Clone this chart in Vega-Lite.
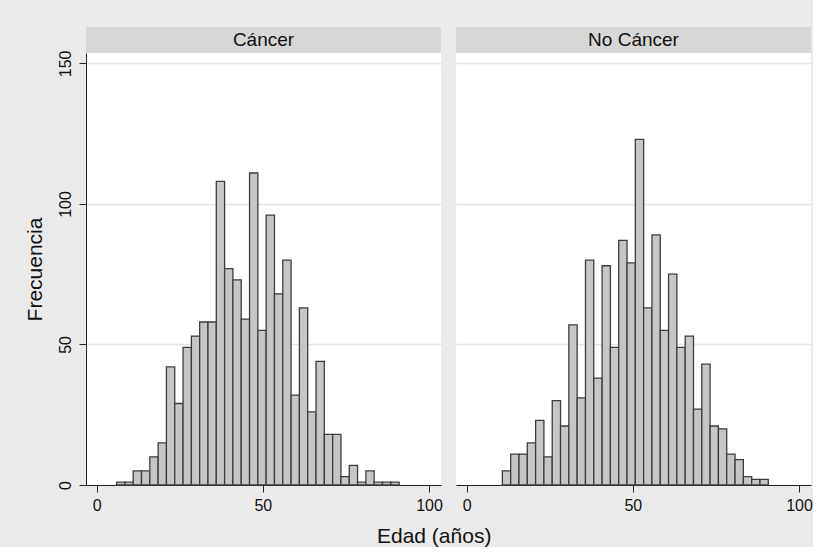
{
  "$schema": "https://vega.github.io/schema/vega-lite/v6.json",
  "background": "#eaeaea",
  "padding": {"left": 24, "top": 27, "right": 0, "bottom": 0},
  "autosize": {"type": "pad"},
  "spacing": 13,
  "datasets": {
    "left": [
      {"start": 6, "end": 8.5, "count": 1},
      {"start": 8.5, "end": 11, "count": 1},
      {"start": 11, "end": 13.5, "count": 5},
      {"start": 13.5, "end": 16, "count": 5},
      {"start": 16, "end": 18.5, "count": 10},
      {"start": 18.5, "end": 21, "count": 15},
      {"start": 21, "end": 23.5, "count": 42},
      {"start": 23.5, "end": 26, "count": 29},
      {"start": 26, "end": 28.5, "count": 49},
      {"start": 28.5, "end": 31, "count": 53},
      {"start": 31, "end": 33.5, "count": 58},
      {"start": 33.5, "end": 36, "count": 58},
      {"start": 36, "end": 38.5, "count": 108},
      {"start": 38.5, "end": 41, "count": 77},
      {"start": 41, "end": 43.5, "count": 73},
      {"start": 43.5, "end": 46, "count": 59},
      {"start": 46, "end": 48.5, "count": 111},
      {"start": 48.5, "end": 51, "count": 55},
      {"start": 51, "end": 53.5, "count": 96},
      {"start": 53.5, "end": 56, "count": 68},
      {"start": 56, "end": 58.5, "count": 80},
      {"start": 58.5, "end": 61, "count": 32},
      {"start": 61, "end": 63.5, "count": 63},
      {"start": 63.5, "end": 66, "count": 26},
      {"start": 66, "end": 68.5, "count": 44},
      {"start": 68.5, "end": 71, "count": 18},
      {"start": 71, "end": 73.5, "count": 18},
      {"start": 73.5, "end": 76, "count": 3},
      {"start": 76, "end": 78.5, "count": 7},
      {"start": 78.5, "end": 81, "count": 1},
      {"start": 81, "end": 83.5, "count": 5},
      {"start": 83.5, "end": 86, "count": 1},
      {"start": 86, "end": 88.5, "count": 1},
      {"start": 88.5, "end": 91, "count": 1}
    ],
    "right": [
      {"start": 10.75, "end": 13.25, "count": 5},
      {"start": 13.25, "end": 15.75, "count": 11},
      {"start": 15.75, "end": 18.25, "count": 11},
      {"start": 18.25, "end": 20.75, "count": 15},
      {"start": 20.75, "end": 23.25, "count": 23},
      {"start": 23.25, "end": 25.75, "count": 10},
      {"start": 25.75, "end": 28.25, "count": 30},
      {"start": 28.25, "end": 30.75, "count": 21},
      {"start": 30.75, "end": 33.25, "count": 57},
      {"start": 33.25, "end": 35.75, "count": 31},
      {"start": 35.75, "end": 38.25, "count": 80},
      {"start": 38.25, "end": 40.75, "count": 38},
      {"start": 40.75, "end": 43.25, "count": 78},
      {"start": 43.25, "end": 45.75, "count": 49},
      {"start": 45.75, "end": 48.25, "count": 87},
      {"start": 48.25, "end": 50.75, "count": 79},
      {"start": 50.75, "end": 53.25, "count": 123},
      {"start": 53.25, "end": 55.75, "count": 63},
      {"start": 55.75, "end": 58.25, "count": 89},
      {"start": 58.25, "end": 60.75, "count": 55},
      {"start": 60.75, "end": 63.25, "count": 75},
      {"start": 63.25, "end": 65.75, "count": 49},
      {"start": 65.75, "end": 68.25, "count": 53},
      {"start": 68.25, "end": 70.75, "count": 27},
      {"start": 70.75, "end": 73.25, "count": 43},
      {"start": 73.25, "end": 75.75, "count": 21},
      {"start": 75.75, "end": 78.25, "count": 20},
      {"start": 78.25, "end": 80.75, "count": 11},
      {"start": 80.75, "end": 83.25, "count": 9},
      {"start": 83.25, "end": 85.75, "count": 3},
      {"start": 85.75, "end": 88.25, "count": 2},
      {"start": 88.25, "end": 90.75, "count": 2}
    ]
  },
  "config": {
    "font": "Liberation Sans",
    "view": {"stroke": null},
    "axis": {
      "domainColor": "#222222",
      "domainWidth": 1,
      "tickColor": "#222222",
      "tickWidth": 1,
      "tickSize": 7,
      "labelColor": "#111111",
      "labelFont": "Liberation Sans",
      "labelFontSize": 16,
      "titleFont": "Liberation Sans",
      "titleFontSize": 21,
      "titleFontWeight": "normal",
      "titleColor": "#111111",
      "gridColor": "#e4e4e4",
      "gridWidth": 1.5
    },
    "title": {"font": "Liberation Sans"}
  },
  "title": {
    "text": "Edad (años)",
    "orient": "bottom",
    "anchor": "middle",
    "fontSize": 21,
    "fontWeight": "normal",
    "color": "#111111",
    "offset": 13,
    "dx": 16
  },
  "hconcat": [
    {
      "bounds": "flush",
      "spacing": 0,
      "vconcat": [
        {
          "width": 355,
          "height": 26,
          "view": {"fill": "#d7d7d7", "stroke": null},
          "data": {"values": [{"panel": "Cáncer"}]},
          "mark": {"type": "text", "fontSize": 19, "color": "#111111", "font": "Liberation Sans"},
          "encoding": {"text": {"field": "panel", "type": "nominal"}}
        },
        {
          "width": 355,
          "height": 432,
          "view": {"fill": "white", "stroke": null},
          "data": {"name": "left"},
          "mark": {"type": "rect", "fill": "#c6c6c6", "stroke": "#3d3d3d", "strokeWidth": 1.3},
          "encoding": {
            "x": {
              "field": "start",
              "type": "quantitative",
              "scale": {"domain": [-3.2, 103.6], "nice": false, "zero": false},
              "axis": {"values": [0, 50, 100], "title": null, "grid": false, "labelPadding": 5}
            },
            "x2": {"field": "end"},
            "y": {
              "field": "count",
              "type": "quantitative",
              "scale": {"domain": [0, 153.7], "nice": false},
              "axis": {"values": [0, 50, 100, 150], "title": "Frecuencia", "grid": true, "labelAngle": -90, "labelPadding": 6, "titlePadding": 12}
            },
            "y2": {"datum": 0}
          }
        }
      ]
    },
    {
      "bounds": "flush",
      "spacing": 0,
      "vconcat": [
        {
          "width": 355,
          "height": 26,
          "view": {"fill": "#d7d7d7", "stroke": null},
          "data": {"values": [{"panel": "No Cáncer"}]},
          "mark": {"type": "text", "fontSize": 19, "color": "#111111", "font": "Liberation Sans"},
          "encoding": {"text": {"field": "panel", "type": "nominal"}}
        },
        {
          "width": 355,
          "height": 432,
          "view": {"fill": "white", "stroke": null},
          "data": {"name": "right"},
          "mark": {"type": "rect", "fill": "#c6c6c6", "stroke": "#3d3d3d", "strokeWidth": 1.3},
          "encoding": {
            "x": {
              "field": "start",
              "type": "quantitative",
              "scale": {"domain": [-3.2, 103.6], "nice": false, "zero": false},
              "axis": {"values": [0, 50, 100], "title": null, "grid": false, "labelPadding": 5}
            },
            "x2": {"field": "end"},
            "y": {
              "field": "count",
              "type": "quantitative",
              "scale": {"domain": [0, 153.7], "nice": false},
              "axis": {"values": [0, 50, 100, 150], "title": null, "grid": true, "labels": false, "ticks": false, "domain": false}
            },
            "y2": {"datum": 0}
          }
        }
      ]
    }
  ]
}
